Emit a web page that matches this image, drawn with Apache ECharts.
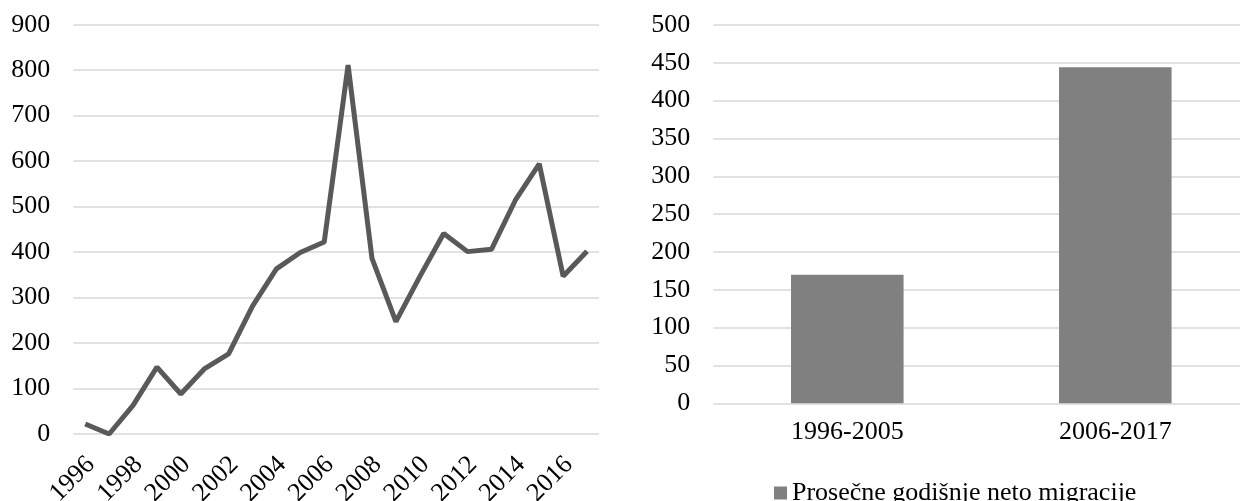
<!DOCTYPE html>
<html>
<head>
<meta charset="utf-8">
<script src="https://cdn.jsdelivr.net/npm/echarts@6/dist/echarts.min.js"></script>
<style>
  html, body { margin: 0; padding: 0; background: #fff; }
  #chart { width: 1240px; height: 501px; }
</style>
</head>
<body>
<div id="chart"></div>
<script>
  // godine i neto migracije (lijevi grafikon)
  var years = ['1996', '1997', '1998', '1999', '2000', '2001', '2002', '2003', '2004', '2005', '2006',
    '2007', '2008', '2009', '2010', '2011', '2012', '2013', '2014', '2015', '2016', '2017'];
  var netMigration = [22, 0, 63, 147, 88, 144, 176, 281, 363, 399, 422,
    811, 386, 247, 346, 441, 401, 406, 514, 594, 347, 402];

  // prosjek po periodima (desni grafikon)
  var periods = ['1996-2005', '2006-2017'];
  var periodAvg = [170, 444];
  var seriesName = 'Prosečne godišnje neto migracije';

  var font = 'Liberation Serif';
  var gridLine = { lineStyle: { color: '#d9d9d9', width: 1.5 } };

  var myChart = echarts.init(document.getElementById('chart'));
  myChart.setOption({
    animation: false,
    textStyle: { fontFamily: font },
    legend: {
      data: [seriesName],
      left: 769,
      top: 475,
      icon: 'rect',
      itemWidth: 13,
      itemHeight: 13,
      textStyle: { fontFamily: font, fontSize: 26, color: '#000' }
    },
    grid: [
      { left: 73.3, right: 641, top: 24.7, bottom: 67, outerBoundsMode: 'none' },
      { left: 713.3, right: -9.3, top: 25, bottom: 97.7, outerBoundsMode: 'none' }
    ],
    xAxis: [
      {
        type: 'category',
        gridIndex: 0,
        data: years,
        boundaryGap: true,
        axisLine: { show: false },
        axisTick: { show: false },
        axisLabel: {
          interval: 1,
          rotate: 45,
          margin: 21,
          verticalAlign: 'top',
          lineHeight: 16,
          fontFamily: font,
          fontSize: 26,
          color: '#000'
        }
      },
      {
        type: 'category',
        gridIndex: 1,
        data: periods,
        axisLine: { show: false },
        axisTick: { show: false },
        axisLabel: { margin: 16, fontFamily: font, fontSize: 26, color: '#000' }
      }
    ],
    yAxis: [
      {
        type: 'value',
        gridIndex: 0,
        min: 0,
        max: 900,
        interval: 100,
        axisLine: { show: false },
        axisTick: { show: false },
        splitLine: gridLine,
        axisLabel: { margin: 23, fontFamily: font, fontSize: 26, color: '#000' }
      },
      {
        type: 'value',
        gridIndex: 1,
        min: 0,
        max: 500,
        interval: 50,
        axisLine: { show: false },
        axisTick: { show: false },
        splitLine: gridLine,
        axisLabel: { margin: 23, fontFamily: font, fontSize: 26, color: '#000' }
      }
    ],
    series: [
      {
        name: 'neto migracije',
        type: 'line',
        xAxisIndex: 0,
        yAxisIndex: 0,
        data: netMigration,
        showSymbol: false,
        lineStyle: { color: '#595959', width: 5 },
        itemStyle: { color: '#595959' }
      },
      {
        name: seriesName,
        type: 'bar',
        xAxisIndex: 1,
        yAxisIndex: 1,
        data: periodAvg,
        barWidth: '42%',
        itemStyle: { color: '#808080' }
      }
    ]
  });
</script>
</body>
</html>
